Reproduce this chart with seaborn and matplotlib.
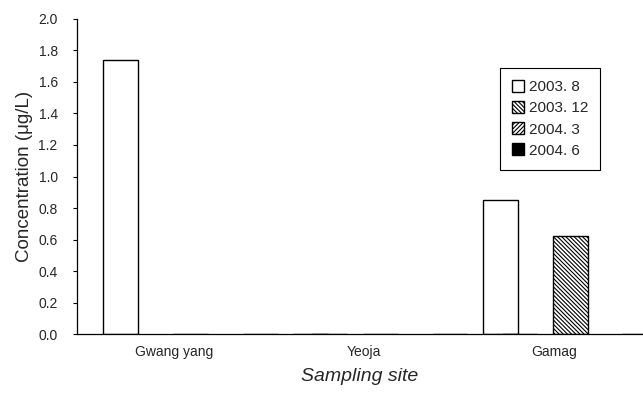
import numpy as np
import pandas as pd
import matplotlib
matplotlib.use('Agg')
import matplotlib.pyplot as plt
import seaborn as sns

# Data
sites = ['Gwang yang', 'Yeoja', 'Gamag']
periods = ['2003. 8', '2003. 12', '2004. 3', '2004. 6']
conc_2003_8 = [1.74, 0.0, 0.85]
conc_2003_12 = [0.0, 0.0, 0.62]
conc_2004_3 = [0.0, 0.0, 0.0]
conc_2004_6 = [0.0, 0.0, 0.0]
y_ticks = [0.0, 0.2, 0.4, 0.6, 0.8, 1.0, 1.2, 1.4, 1.6, 1.8, 2.0]

series = [conc_2003_8, conc_2003_12, conc_2004_3, conc_2004_6]
df = pd.DataFrame({
    'site': sites * len(periods),
    'period': np.repeat(periods, len(sites)),
    'conc': np.concatenate(series),
})

sns.set_style('white')
plt.rcParams['font.family'] = ['Liberation Sans', 'DejaVu Sans']
plt.rcParams['hatch.linewidth'] = 0.8

fig = plt.figure(figsize=(6.43, 3.94), dpi=100)
ax = fig.add_axes([0.12, 0.152, 0.88, 0.80])

fills = ['white', 'white', 'white', 'black']
hatches = ['', '\\' * 8, '/' * 8, '']

sns.barplot(data=df, x='site', y='conc', hue='period', hue_order=periods,
            order=sites, palette=fills, width=1.47, gap=0.5,
            edgecolor='black', linewidth=1.0, saturation=1, legend=False, ax=ax)

for cont, h in zip(ax.containers, hatches):
    for bar in cont:
        bar.set_hatch(h)

# Excel-style category labels, shifted like in the source figure
shift = -0.27
ax.set_xlim(-0.78, 2.2)
ax.set_xticks(np.arange(len(sites)) + shift, sites)
ax.set_xticks(np.arange(len(sites) - 1) + 0.5 + shift, minor=True)
ax.tick_params(axis='x', which='major', length=0, pad=8, labelsize=10)
ax.tick_params(axis='x', which='minor', direction='in', length=4, width=0.8, color='black')

ax.set_ylim(0, 2.0)
ax.set_yticks(y_ticks, [f'{v:.1f}' for v in y_ticks])
ax.tick_params(axis='y', direction='out', length=3, width=0.8, pad=11, labelsize=10, color='black', left=True)

sns.despine(ax=ax, top=True, right=True)
for s in ['left', 'bottom']:
    ax.spines[s].set_color('black')
    ax.spines[s].set_linewidth(0.9)

ax.set_ylabel('Concentration (μg/L)', fontsize=13.5, labelpad=4)
ax.set_xlabel('Sampling site', fontsize=14, style='italic', labelpad=6)

handles = [cont.patches[0] for cont in ax.containers]
leg = ax.legend(handles, periods, loc='upper left', bbox_to_anchor=(0.747, 0.844),
                borderaxespad=0, fontsize=11, handlelength=0.8, handleheight=0.8,
                handletextpad=0.3, labelspacing=0.45, frameon=True, fancybox=False,
                borderpad=0.8)
leg.get_frame().set_edgecolor('black')
leg.get_frame().set_linewidth(0.8)
leg.get_frame().set_alpha(1)

fig.savefig('out.png', dpi=100)
